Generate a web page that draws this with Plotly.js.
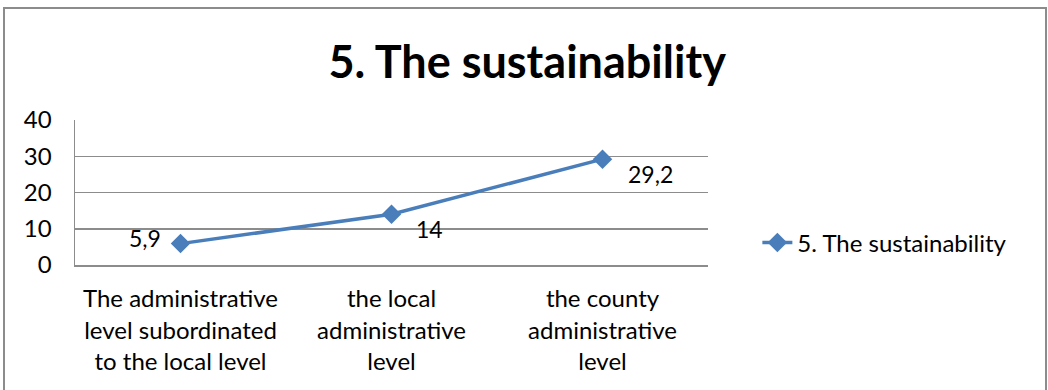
<!DOCTYPE html>
<html><head><meta charset="utf-8">
<script src="https://cdn.plot.ly/plotly-3.0.1.min.js"></script>
<style>
html,body{margin:0;padding:0;background:#fff;}
#frame{position:absolute;left:3px;top:7px;width:1040px;height:400px;border:2px solid #8c8c8c;border-bottom:none;}
#chart{position:absolute;left:0;top:0;width:1048px;height:390px;}
</style></head>
<body>
<div id="frame"></div>
<div id="chart"></div>
<script>
const categories = ["The administrative<br>level subordinated<br>to the local level", "the local<br>administrative<br>level", "the county<br>administrative<br>level"];
const values = [5.9, 14, 29.2];
const valueLabels = ["5,9", "14", "29,2"];
const seriesName = "5. The sustainability";
const yTicks = [0, 10, 20, 30, 40];

const xIdx = categories.map((c, i) => i);
const font = "Lato, 'Open Sans', sans-serif";
const labelShift = [[-36, 6], [38, -15], [48, -15]];

const trace = {
  x: xIdx, y: values, type: 'scatter', mode: 'lines+markers', name: seriesName,
  line: {color: '#4a7ebb', width: 3.5},
  marker: {symbol: 'diamond', size: 15, color: '#4a7ebb'},
  hoverinfo: 'skip'
};

const annotations = values.map((v, i) => ({
  x: i, y: v, xref: 'x', yref: 'y', text: valueLabels[i], showarrow: false,
  xshift: labelShift[i][0], yshift: labelShift[i][1],
  font: {family: font, size: 23, color: '#000'}
}));

const layout = {
  width: 1048, height: 390,
  margin: {l: 75, r: 340, t: 120, b: 125, pad: 0},
  paper_bgcolor: 'rgba(0,0,0,0)', plot_bgcolor: '#fff',
  title: {text: '<b>5. The sustainability</b>', x: 0.503, xanchor: 'center', y: 0.84, yanchor: 'middle', yref: 'container',
    font: {family: font, size: 45, color: '#000'}},
  xaxis: {range: [-0.5, 2.5], tickvals: xIdx, ticktext: categories, showgrid: false, zeroline: false,
    showline: true, linecolor: '#8c8c8c', linewidth: 1.5, ticks: 'outside', ticklen: 12, tickcolor: 'rgba(0,0,0,0)',
    tickfont: {family: font, size: 24, color: '#000'}, fixedrange: true},
  yaxis: {range: [0, 40], tickvals: yTicks, showgrid: true, gridcolor: '#8c8c8c', gridwidth: 1.5, zeroline: false,
    showline: true, linecolor: '#8c8c8c', linewidth: 1.5, ticks: 'outside', ticklen: 17, tickcolor: 'rgba(0,0,0,0)',
    tickfont: {family: font, size: 24, color: '#000'}, fixedrange: true},
  showlegend: true,
  legend: {x: 1.078, xanchor: 'left', y: 0.152, yanchor: 'middle', font: {family: font, size: 24, color: '#000'},
    bgcolor: 'rgba(0,0,0,0)', itemwidth: 30},
  annotations: annotations
};

Plotly.newPlot('chart', [trace], layout, {displayModeBar: false, staticPlot: true});
</script>
</body></html>
